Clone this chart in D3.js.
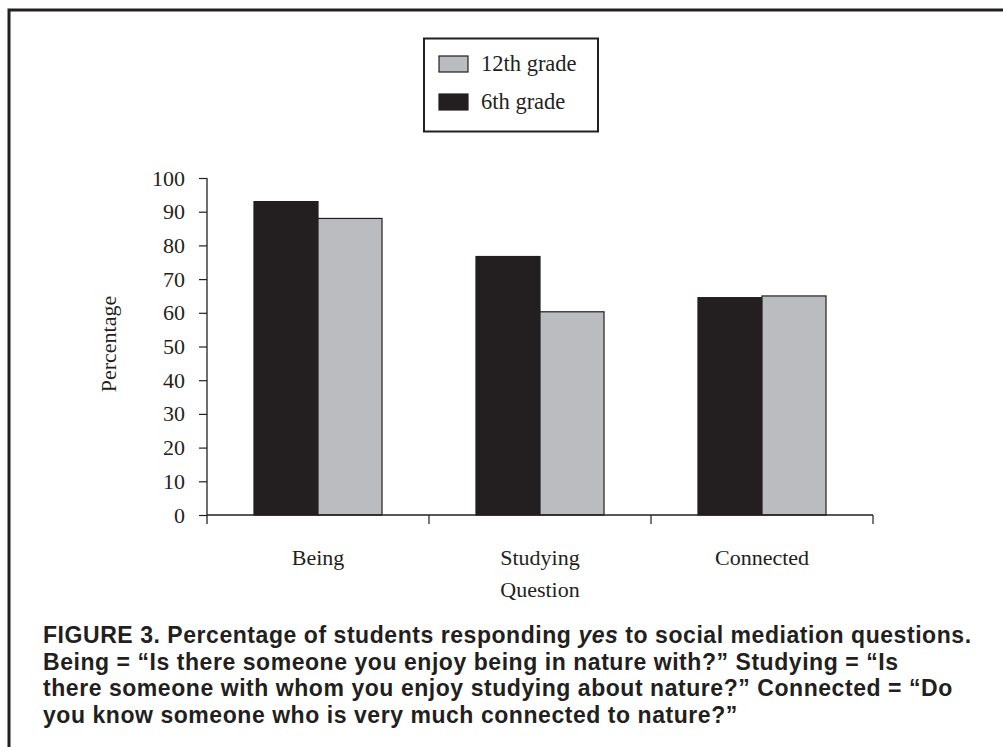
<!DOCTYPE html>
<html><head><meta charset="utf-8">
<script src="https://cdn.jsdelivr.net/npm/d3@7"></script>
<style>
html,body{margin:0;padding:0;background:#fff;}
svg{display:block;}
</style></head>
<body>
<svg id="chart" width="1003" height="747"></svg>
<script>
const categories = ["Being", "Studying", "Connected"];
const seriesNames = ["6th grade", "12th grade"];
const sixthGrade = [93, 76.7, 64.5];
const twelfthGrade = [88, 60.3, 65];
const yTicks = [0, 10, 20, 30, 40, 50, 60, 70, 80, 90, 100];
const legendOrder = ["12th grade", "6th grade"];
const captionLines = [
  [{t:"FIGURE 3. Percentage of students responding "},{t:"yes",i:true},{t:" to social mediation questions."}],
  [{t:"Being = \u201CIs there someone you enjoy being in nature with?\u201D Studying = \u201CIs"}],
  [{t:"there someone with whom you enjoy studying about nature?\u201D Connected = \u201CDo"}],
  [{t:"you know someone who is very much connected to nature?\u201D"}]
];

const dark = "#231f20", grey = "#bbbcbf";
const colors = {"6th grade": dark, "12th grade": grey};
const serif = "'Liberation Serif', 'DejaVu Serif', serif";
const sans = "'Liberation Sans', Arial, sans-serif";

const svg = d3.select("#chart");

// outer frame (top and left)
svg.append("path").attr("d","M9,1000 V10 H1003").attr("fill","none")
  .attr("stroke",dark).attr("stroke-width",3);

const x0 = d3.scaleBand().domain(categories).range([207, 873]).padding(0);
const x1 = d3.scaleBand().domain(seriesNames).range([0, x0.bandwidth()]).paddingInner(0).paddingOuter(0.734);
const y = d3.scaleLinear().domain([0, 100]).range([515, 178]);

const data = categories.map((c, i) => ({cat: c, vals: [
  {s: "6th grade", v: sixthGrade[i]}, {s: "12th grade", v: twelfthGrade[i]}]}));

// bars
const g = svg.append("g");
g.selectAll("g.cat").data(data).enter().append("g")
  .attr("transform", d => `translate(${x0(d.cat)},0)`)
  .selectAll("rect").data(d => d.vals).enter().append("rect")
  .attr("x", d => x1(d.s)).attr("width", x1.bandwidth())
  .attr("y", d => y(d.v)).attr("height", d => y(0) - y(d.v))
  .attr("fill", d => colors[d.s])
  .attr("stroke", dark).attr("stroke-width", 1.2);

// y axis
const yAxis = svg.append("g").attr("transform","translate(207,0)")
  .call(d3.axisLeft(y).tickValues(yTicks).tickSize(8).tickSizeOuter(0).tickPadding(14));
yAxis.select(".domain").remove();
yAxis.selectAll(".tick line").attr("stroke", dark).attr("stroke-width",1.2);
yAxis.selectAll("text").attr("font-family", serif).attr("font-size", 22).attr("fill", dark);
svg.append("line").attr("x1",207).attr("x2",207).attr("y1",y(100)).attr("y2",y(0)+9)
  .attr("stroke",dark).attr("stroke-width",1.3);

// x axis
svg.append("line").attr("x1",x0.range()[0]).attr("x2",x0.range()[1]).attr("y1",y(0)).attr("y2",y(0))
  .attr("stroke",dark).attr("stroke-width",1.3);
svg.selectAll("line.xt").data(categories.slice(0)).enter().append("line")
  .attr("x1", d => x0(d) + x0.step()).attr("x2", d => x0(d) + x0.step())
  .attr("y1", y(0)).attr("y2", y(0) + 9).attr("stroke", dark).attr("stroke-width",1.2);
const xAxis = svg.append("g").attr("transform",`translate(0,${y(0)})`)
  .call(d3.axisBottom(x0).tickSize(0).tickPadding(34));
xAxis.select(".domain").remove();
xAxis.selectAll("text").attr("font-family", serif).attr("font-size", 22).attr("fill", dark);

// axis titles
svg.append("text").attr("x", 540).attr("y", 597).attr("text-anchor","middle")
  .attr("font-family", serif).attr("font-size", 22).attr("fill", dark).text("Question");
svg.append("text").attr("transform","translate(116,344) rotate(-90)").attr("text-anchor","middle")
  .attr("font-family", serif).attr("font-size", 22).attr("fill", dark).text("Percentage");

// legend
const lg = svg.append("g");
lg.append("rect").attr("x",424).attr("y",38.5).attr("width",174).attr("height",93)
  .attr("fill","#fff").attr("stroke",dark).attr("stroke-width",2);
const li = lg.selectAll("g.li").data(legendOrder).enter().append("g")
  .attr("transform",(d,i)=>`translate(439,${56 + i*38})`);
li.append("rect").attr("width",29).attr("height",16).attr("fill",d=>colors[d])
  .attr("stroke",dark).attr("stroke-width",1.2);
li.append("text").attr("x",42).attr("y",14.5).attr("font-family",serif).attr("font-size",22.5)
  .attr("fill",dark).text(d=>d);

// caption
const cap = svg.append("text").attr("font-family", sans).attr("font-weight","bold")
  .attr("font-size", 23).attr("letter-spacing", "0.55px").attr("fill", dark);
captionLines.forEach((line, i) => {
  line.forEach((seg, j) => {
    const s = cap.append("tspan").text(seg.t);
    if (j === 0) s.attr("x", 43).attr("y", 643 + i*26.7);
    if (seg.i) s.attr("font-style","italic");
  });
});
</script>
</body></html>
